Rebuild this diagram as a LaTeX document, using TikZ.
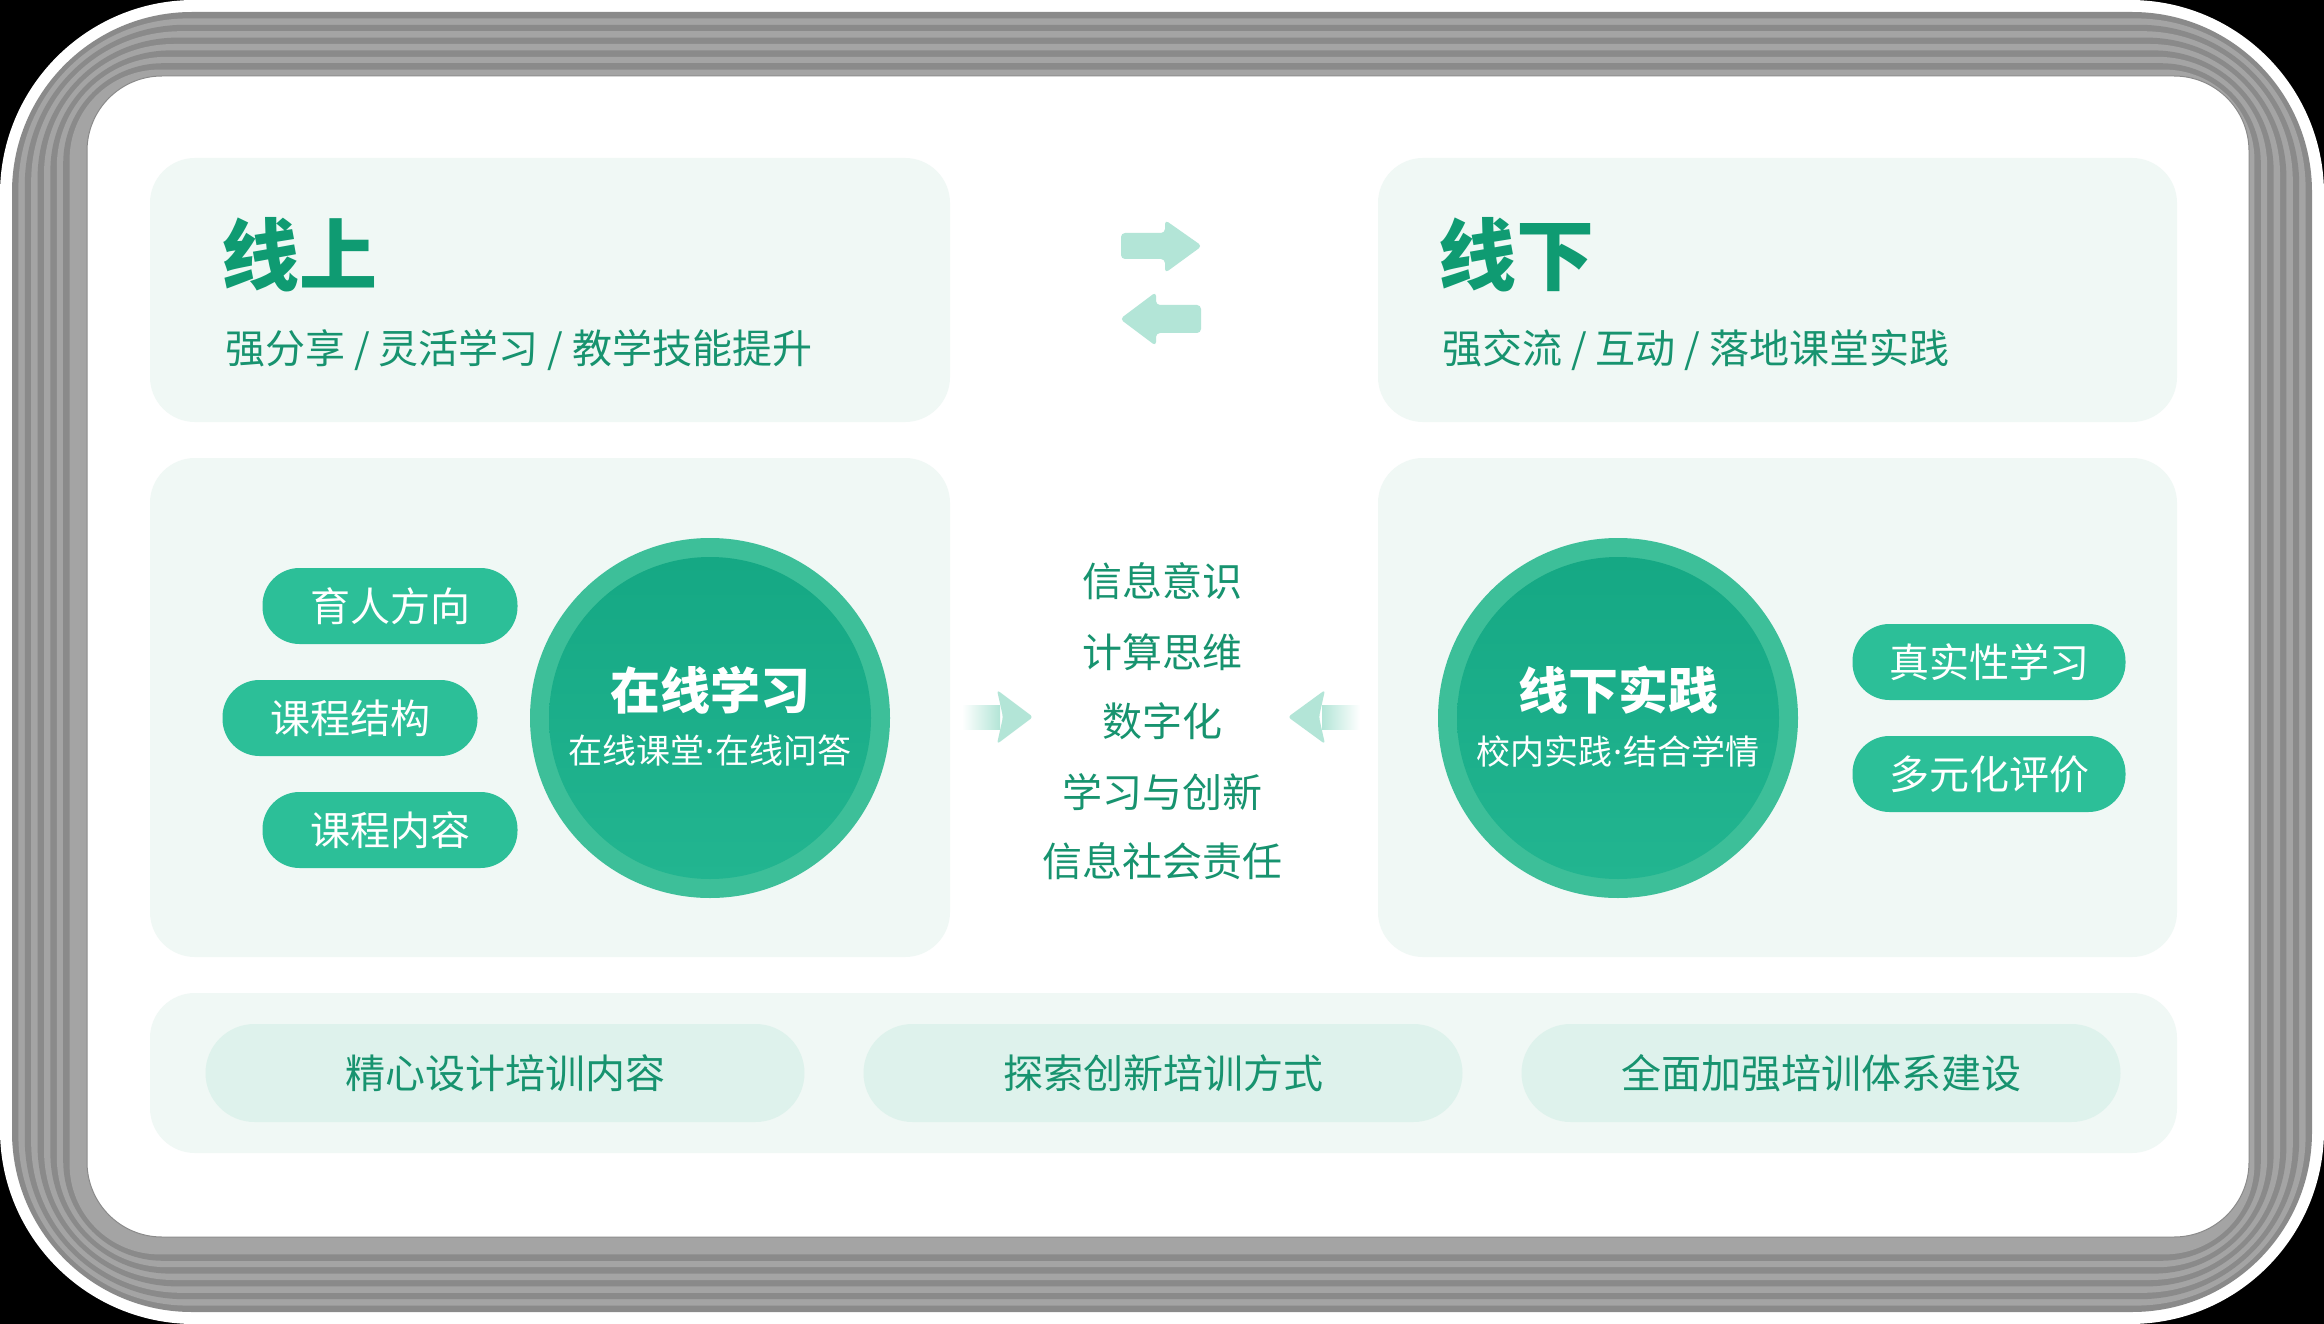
\documentclass[tikz,border=0pt]{standalone}
\usepackage{fontspec}
\newfontfamily\cjk{Noto Sans CJK SC}
\newfontfamily\cjkblack{Noto Sans CJK SC Black}
\newfontfamily\latinf{Noto Sans}
\newcommand\mdot{{\latinf\kern1pt·\kern1pt}}
\definecolor{panelc}{HTML}{F0F8F5}
\definecolor{botpill}{HTML}{DEF2EC}
\definecolor{arrowc}{HTML}{B3E5D7}
\definecolor{pillg}{HTML}{2CBF98}
\definecolor{ringc}{HTML}{3DBF99}
\definecolor{circA}{HTML}{15A884}
\definecolor{circB}{HTML}{22B590}
\definecolor{titlec}{HTML}{0F9B72}
\definecolor{textc}{HTML}{17936F}
\definecolor{sdark}{HTML}{8A8A8A}
\definecolor{slight}{HTML}{A4A4A4}
\tikzset{
  panel/.style={fill=panelc, rounded corners=45pt},
  txt/.style={inner sep=0pt, text=textc, font=\cjk\fontsize{40pt}{48pt}\selectfont},
  ttl/.style={inner sep=0pt, text=titlec, font=\cjkblack\fontsize{78pt}{90pt}\selectfont},
  gpill/.style={fill=pillg, text=white, rounded corners=37pt, minimum height=76pt, inner sep=0pt, font=\cjk\fontsize{40pt}{48pt}\selectfont},
  bpill/.style={fill=botpill, text=textc, rounded corners=49pt, minimum height=98pt, minimum width=599pt, inner sep=0pt, font=\cjk\fontsize{40pt}{48pt}\selectfont},
  ctitle/.style={inner sep=0pt, text=white, font=\cjk\bfseries\fontsize{50pt}{60pt}\selectfont},
  csub/.style={inner sep=0pt, text=white, font=\cjk\fontsize{34pt}{40pt}\selectfont},
  arr/.style={fill=arrowc, rounded corners=4pt}
}
\begin{document}
\begin{tikzpicture}[x=1pt,y=-1pt]
\useasboundingbox (0,0) rectangle (2324,1324);
% outer frame
\fill[black] (0,0) rectangle (2324,1324);
\fill[white, rounded corners=194pt] (0,0) rectangle (2324,1324);
\foreach \i in {0,...,9}{
  \pgfmathsetmacro\d{\i*6.4}
  \pgfmathsetmacro\r{180-\i*10}
  \pgfmathtruncatemacro\odd{mod(\i,2)}
  \ifnum\odd=0 \def\col{sdark}\else\def\col{slight}\fi
  \fill[\col, rounded corners=\r pt] (12+\d,12+\d) rectangle (2312-\d,1312-\d);
}
\fill[white, draw=sdark, line width=1pt, rounded corners=75pt] (87,76) rectangle (2249,1237);
% panels
\fill[panel] (150,158) rectangle (950,422);
\fill[panel] (1378,158) rectangle (2177,422);
\fill[panel] (150,458) rectangle (950,957);
\fill[panel] (1378,458) rectangle (2177,957);
\fill[panel] (150,993) rectangle (2177,1153);
% titles
\node[ttl, anchor=west] (on) at (221,255) {线上};
\node[txt, anchor=west] (onsub) at (225,350) {强分享 / 灵活学习 / 教学技能提升};
\node[ttl, anchor=west] (off) at (1438,255) {线下};
\node[txt, anchor=west] (offsub) at (1442,350) {强交流 / 互动 / 落地课堂实践};
% top swap arrows
\coordinate (swapR) at (1121,246);
\coordinate (swapL) at (1201,319);
\fill[arr] (swapR) ++(0,-13) -- ++(44,0) -- ++(0,-13) -- (1202,246) -- (1165,273) -- (1165,259) -- (1121,259) -- cycle;
\fill[arr] (swapL) ++(0,-14) -- ++(-45,0) -- ++(0,-13) -- (1120,319) -- (1156,346) -- (1156,333) -- (1201,333) -- cycle;
% circles
\fill[ringc] (710,718) circle (180);
\shade[top color=circA, bottom color=circB] (710,718) circle (161);
\node[ctitle] (c1t) at (710,690) {在线学习};
\node[csub] (c1s) at (710,751) {在线课堂\mdot 在线问答};
\fill[ringc] (1618,718) circle (180);
\shade[top color=circA, bottom color=circB] (1618,718) circle (161);
\node[ctitle] (c2t) at (1618,690) {线下实践};
\node[csub] (c2s) at (1618,751) {校内实践\mdot 结合学情};
% pills
\node[gpill, minimum width=255pt] (p1) at (390,606) {育人方向};
\node[gpill, minimum width=255pt] (p2) at (350,718) {课程结构};
\node[gpill, minimum width=255pt] (p3) at (390,830) {课程内容};
\node[gpill, minimum width=273pt] (p4) at (1989,662) {真实性学习};
\node[gpill, minimum width=273pt] (p5) at (1989,774) {多元化评价};
% middle list
\node[txt] (m1) at (1162,581) {信息意识};
\node[txt] (m2) at (1162,652) {计算思维};
\node[txt] (m3) at (1162,721) {数字化};
\node[txt] (m4) at (1162,792) {学习与创新};
\node[txt] (m5) at (1162,861) {信息社会责任};
% middle arrows
\shade[left color=white, right color=arrowc] (962,705) rectangle (1000,729);
\fill[arrowc, rounded corners=3pt] (997,690) -- (1033,717) -- (997,744) -- (1003,717) -- cycle;
\shade[left color=arrowc, right color=white] (1322,705) rectangle (1360,729);
\fill[arrowc, rounded corners=3pt] (1325,690) -- (1288,717) -- (1325,744) -- (1319,717) -- cycle;
% bottom pills
\node[bpill] (b1) at (505,1073) {精心设计培训内容};
\node[bpill] (b2) at (1163,1073) {探索创新培训方式};
\node[bpill] (b3) at (1821,1073) {全面加强培训体系建设};
\end{tikzpicture}
\end{document}
